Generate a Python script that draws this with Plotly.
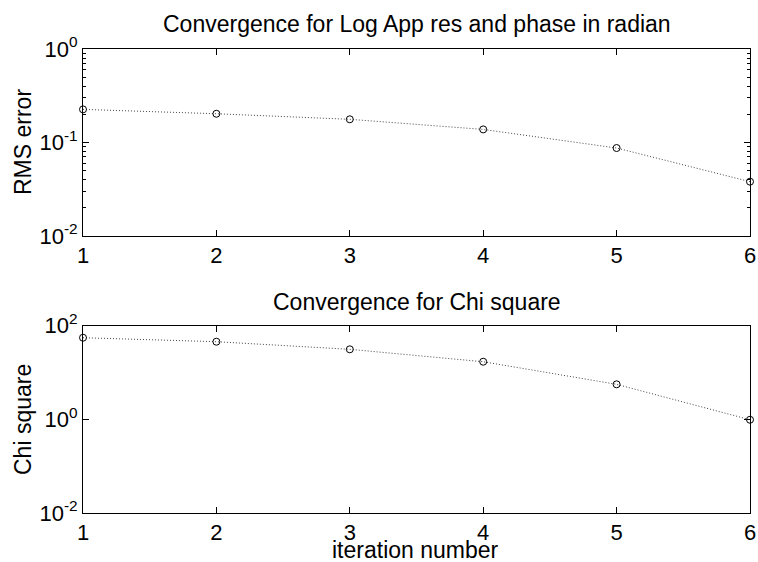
import plotly.graph_objects as go
from plotly.subplots import make_subplots

iterations = [1, 2, 3, 4, 5, 6]
rms_error = [0.226, 0.203, 0.177, 0.138, 0.0873, 0.0381]
chi_square = [55.4, 45.5, 31.3, 17.0, 5.6, 0.98]

top_tickvals = [0.01, 0.1, 1]
top_ticktext = ["10<sup>-2</sup>", "10<sup>-1</sup>", "10<sup>0</sup>"]
bot_tickvals = [0.01, 1, 100]
bot_ticktext = ["10<sup>-2</sup>", "10<sup>0</sup>", "10<sup>2</sup>"]

FONT = "Liberation Sans, Arial, sans-serif"
FS = 23
TFS = 22

fig = make_subplots(rows=2, cols=1)

line_style = dict(color="#444444", width=1, dash="1px,2px")
marker_style = dict(symbol="circle-open", size=7, color="black", line=dict(width=1, color="black"))

fig.add_trace(go.Scatter(x=iterations, y=rms_error, mode="lines+markers",
                         line=line_style, marker=marker_style, cliponaxis=False,
                         showlegend=False), row=1, col=1)
fig.add_trace(go.Scatter(x=iterations, y=chi_square, mode="lines+markers",
                         line=line_style, marker=marker_style, cliponaxis=False,
                         showlegend=False), row=2, col=1)

W, H, ml, mr, mt, mb = 758, 562, 83, 8, 49, 49
ph = H - mt - mb
pw = W - ml - mr

def py(p):
    return (H - mb - p) / ph

def px(p):
    return (p - ml) / pw

xcommon = dict(range=[1, 6], tickvals=iterations, ticks="inside", ticklen=6,
               showline=True, linecolor="black", linewidth=1, mirror="allticks",
               showgrid=False, zeroline=False, tickcolor="black", automargin=False,
               tickfont=dict(family=FONT, size=TFS, color="black"))
ycommon = dict(type="log", ticks="inside", ticklen=6,
               showline=True, linecolor="black", linewidth=1, mirror="allticks",
               showgrid=False, zeroline=False, tickcolor="black", automargin=False,
               tickfont=dict(family=FONT, size=TFS, color="black"))

def label(text, x, y, angle=0):
    return dict(text=text, xref="paper", yref="paper", x=x, y=y,
                xanchor="center", yanchor="middle", showarrow=False, textangle=angle,
                font=dict(family=FONT, size=FS, color="black"))

fig.update_layout(
    width=W, height=H,
    margin=dict(l=ml, r=mr, t=mt, b=mb, autoexpand=False),
    paper_bgcolor="white", plot_bgcolor="white",
    font=dict(family=FONT, size=FS, color="black"),
    xaxis=dict(domain=[0, 1], anchor="y", **xcommon),
    yaxis=dict(domain=[py(236), 1], range=[-2, 0], tickvals=top_tickvals, ticktext=top_ticktext,
               minor=dict(ticks="inside", ticklen=3, dtick="D1", tickcolor="black", showgrid=False),
               **ycommon),
    xaxis2=dict(domain=[0, 1], anchor="y2", **xcommon),
    yaxis2=dict(domain=[0, py(325.7)], range=[-2, 2], tickvals=bot_tickvals, ticktext=bot_ticktext,
                **ycommon),
    annotations=[
        label("Convergence for Log App res and phase in radian", 0.5, py(24)),
        label("Convergence for Chi square", 0.5, py(302)),
        label("iteration number", px(415), py(550)),
        label("RMS error", px(22.5), py(142.5), -90),
        label("Chi square", px(22.5), py(419.5), -90),
    ],
)

fig.write_html("out.html")
